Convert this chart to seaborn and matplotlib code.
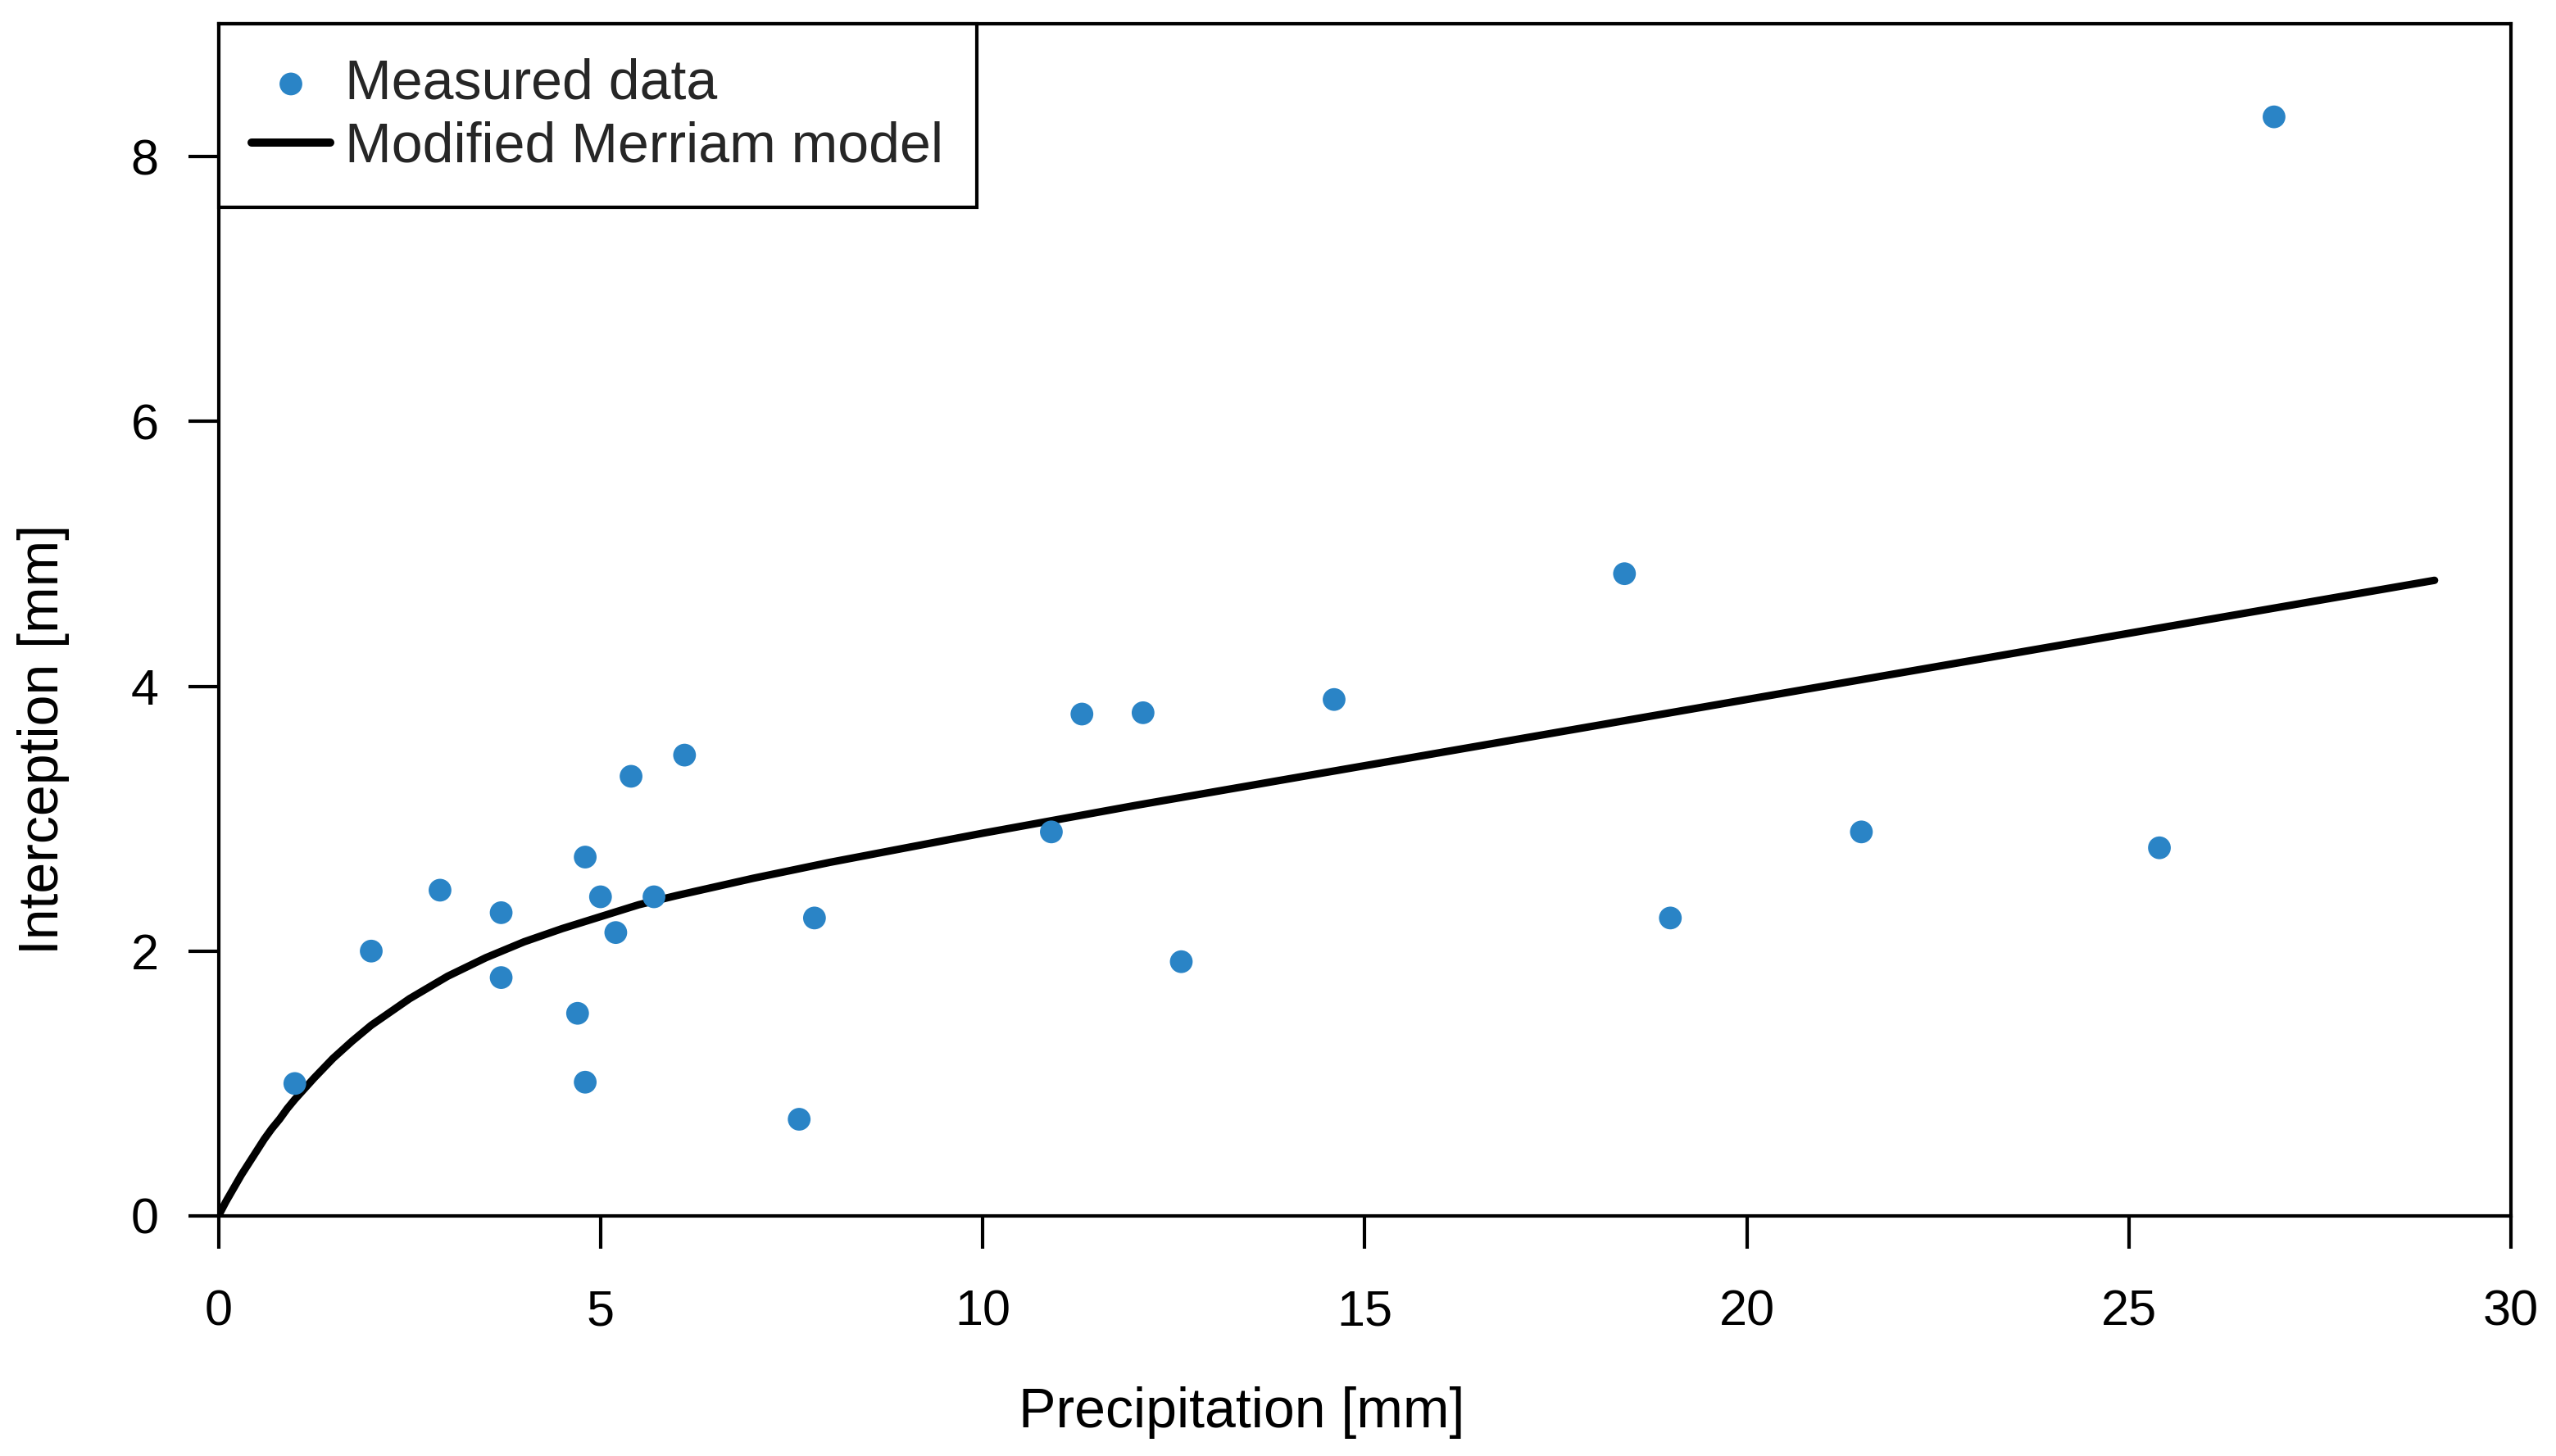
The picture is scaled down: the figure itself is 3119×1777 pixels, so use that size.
import numpy as np
import pandas as pd
import matplotlib
matplotlib.use("Agg")
import matplotlib.pyplot as plt
import seaborn as sns

precip = [1.0, 2.0, 2.9, 3.7, 3.7, 4.7, 4.8, 4.8, 5.0, 5.2, 5.4, 5.7, 6.1,
          7.6, 7.8, 10.9, 11.3, 12.1, 12.6, 14.6, 18.4, 19.0, 21.5, 25.4, 26.9]
interc = [1.0, 2.0, 2.46, 2.29, 1.80, 1.53, 2.71, 1.01, 2.41, 2.14, 3.32, 2.41, 3.48,
          0.73, 2.25, 2.90, 3.79, 3.80, 1.92, 3.90, 4.85, 2.25, 2.90, 2.78, 8.30]

# Modified Merriam model curve
model_p = [0, 0.1, 0.2, 0.3, 0.4, 0.5, 0.6, 0.7, 0.8, 0.9, 1.0, 1.25, 1.5, 1.75,
           2, 2.5, 3, 3.5, 4, 4.5, 5, 5.5, 6, 7, 8, 9, 10, 12, 15, 20, 25, 29]
model_i = [0, 0.11, 0.21, 0.31, 0.40, 0.49, 0.58, 0.66, 0.73, 0.81, 0.88, 1.04, 1.19, 1.32,
           1.44, 1.64, 1.81, 1.95, 2.07, 2.17, 2.26, 2.35, 2.42, 2.55, 2.67, 2.78,
           2.89, 3.10, 3.40, 3.90, 4.40, 4.80]

x_ticks = [0, 5, 10, 15, 20, 25, 30]
y_ticks = [0, 2, 4, 6, 8]

sns.set_theme(style="white")
plt.rcParams["font.family"] = ["Liberation Sans", "DejaVu Sans"]

fig = plt.figure(figsize=(3119 / 200, 1777 / 200), dpi=200)
ax = fig.add_axes([0.08545, 0.16489, 0.98237 - 0.08545, 0.9834 - 0.16489])

df = pd.DataFrame({"P": precip, "I": interc})
mdf = pd.DataFrame({"P": model_p, "I": model_i})

sns.scatterplot(data=df, x="P", y="I", ax=ax, color="#2a84c6", s=100,
                edgecolor="none", linewidth=0, label="Measured data", zorder=3)
sns.lineplot(data=mdf, x="P", y="I", ax=ax, color="black", lw=3.3,
             label="Modified Merriam model", zorder=2, sort=False)
for ln in ax.get_lines():
    ln.set_linewidth(3.3)
    ln.set_solid_capstyle("round")
    ln.set_solid_joinstyle("round")

ax.set_xlim(0, 30)
ax.set_ylim(0, 9)
ax.set_xticks(x_ticks)
ax.set_yticks(y_ticks)
ax.set_xticklabels([str(v) for v in x_ticks])
ax.set_yticklabels([str(v) for v in y_ticks])
ax.set_xlabel("")
ax.set_ylabel("")

for sp in ax.spines.values():
    sp.set_visible(True)
    sp.set_color("black")
    sp.set_linewidth(1.5)

ax.tick_params(axis="x", which="major", direction="out", length=14.4, width=1.5,
               pad=18, labelsize=22, colors="black", bottom=True)
ax.tick_params(axis="y", which="major", direction="out", length=13.2, width=1.5,
               pad=13, labelsize=22, colors="black", left=True)
ax.grid(False)

fig.text(1515 / 3119, 1 - 1742 / 1777, "Precipitation [mm]", ha="center",
         va="baseline", fontsize=24.5, color="black")
fig.text(53 / 3119, 1 - 902 / 1777, "Interception [mm]", ha="center",
         va="center", rotation=90, fontsize=24.5, color="black")

leg = ax.legend(loc="upper left", bbox_to_anchor=(0, 1), borderaxespad=0,
                fontsize=24.5, frameon=True, fancybox=False, borderpad=0.6,
                labelspacing=0.2, handlelength=1.4, handletextpad=0.27,
                edgecolor="black", framealpha=1)
leg.get_frame().set_linewidth(1.5)
for h in leg.get_lines():
    h.set_linewidth(3.6)

fig.savefig("out.png", dpi=200, facecolor="white")
